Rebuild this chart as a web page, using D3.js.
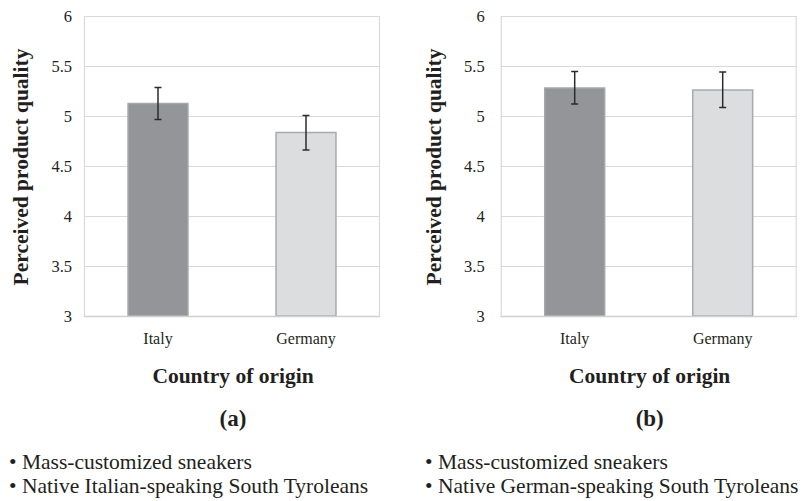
<!DOCTYPE html>
<html>
<head>
<meta charset="utf-8">
<script src="https://cdn.jsdelivr.net/npm/d3@7"></script>
<style>
  html, body { margin: 0; padding: 0; background: #fff; }
  svg { display: block; }
  text { font-family: "Liberation Serif", "Times New Roman", serif; fill: #231f20; }
</style>
</head>
<body>
<svg id="chart" width="811" height="501"></svg>
<script>
// ---- data ----
const categories = ["Italy", "Germany"];
const meansA = [5.125, 4.835];
const errLowA = [4.965, 4.66];
const errHighA = [5.285, 5.005];
const meansB = [5.28, 5.26];
const errLowB = [5.12, 5.085];
const errHighB = [5.445, 5.44];
const yTicks = [3, 3.5, 4, 4.5, 5, 5.5, 6];
const yTickLabels = ["3", "3.5", "4", "4.5", "5", "5.5", "6"];
const yTitle = "Perceived product quality";
const xTitle = "Country of origin";
const panelLabels = ["(a)", "(b)"];
const bulletsA = ["Mass-customized sneakers", "Native Italian-speaking South Tyroleans"];
const bulletsB = ["Mass-customized sneakers", "Native German-speaking South Tyroleans"];
const barColors = ["#939598", "#dcdddf"];
const barStrokes = ["#a7a8aa", "#a9aaac"];

const svg = d3.select("#chart");

const panels = [
  { x0: 84, x1: 380, means: meansA, lo: errLowA, hi: errHighA, label: panelLabels[0],
    bullets: bulletsA, tickGap: 12, titleX: 28, bulletX: 9 },
  { x0: 500.7, x1: 796.7, means: meansB, lo: errLowB, hi: errHighB, label: panelLabels[1],
    bullets: bulletsB, tickGap: 16, titleX: 441, bulletX: 425 }
];

const y = d3.scaleLinear().domain([3, 6]).range([316, 16]);

panels.forEach(p => {
  const g = svg.append("g");
  const x = d3.scaleBand().domain(categories).range([p.x0, p.x1]).paddingInner(0.595).paddingOuter(0.2975);
  const cx = (p.x0 + p.x1) / 2;

  // gridlines
  g.append("g").selectAll("line").data(yTicks).join("line")
    .attr("x1", p.x0).attr("x2", p.x1)
    .attr("y1", d => Math.round(y(d)) + 0.5).attr("y2", d => Math.round(y(d)) + 0.5)
    .attr("stroke", "#d9d9d9").attr("stroke-width", 1.2);

  // frame sides
  g.append("line").attr("x1", p.x0 + 0.5).attr("x2", p.x0 + 0.5).attr("y1", y(6)).attr("y2", y(3))
    .attr("stroke", "#d9d9d9").attr("stroke-width", 1.2);
  g.append("line").attr("x1", p.x1 - 0.5).attr("x2", p.x1 - 0.5).attr("y1", y(6)).attr("y2", y(3))
    .attr("stroke", "#d9d9d9").attr("stroke-width", 1.2);

  // bars
  g.append("g").selectAll("rect").data(categories).join("rect")
    .attr("x", d => x(d)).attr("width", x.bandwidth())
    .attr("y", (d, i) => y(p.means[i])).attr("height", (d, i) => y(3) - y(p.means[i]))
    .attr("fill", (d, i) => barColors[i])
    .attr("stroke", (d, i) => barStrokes[i]).attr("stroke-width", 1.5);

  // bottom axis line
  g.append("line").attr("x1", p.x0).attr("x2", p.x1).attr("y1", 316.5).attr("y2", 316.5)
    .attr("stroke", "#d0d0d0").attr("stroke-width", 1.5);

  // error bars
  const eb = g.append("g").attr("stroke", "#2b2b2b").attr("stroke-width", 1.5);
  categories.forEach((c, i) => {
    const mx = x(c) + x.bandwidth() / 2;
    eb.append("line").attr("x1", mx).attr("x2", mx).attr("y1", y(p.hi[i])).attr("y2", y(p.lo[i]));
    eb.append("line").attr("x1", mx - 3.5).attr("x2", mx + 3.5).attr("y1", y(p.hi[i])).attr("y2", y(p.hi[i]));
    eb.append("line").attr("x1", mx - 3.5).attr("x2", mx + 3.5).attr("y1", y(p.lo[i])).attr("y2", y(p.lo[i]));
  });

  // y tick labels
  g.append("g").selectAll("text").data(yTicks).join("text")
    .attr("x", p.x0 - p.tickGap).attr("y", d => y(d))
    .attr("dy", "0.35em").attr("text-anchor", "end")
    .style("font-size", "16.5px")
    .text((d, i) => yTickLabels[i]);

  // x tick labels
  g.append("g").selectAll("text").data(categories).join("text")
    .attr("x", d => x(d) + x.bandwidth() / 2).attr("y", 344)
    .attr("text-anchor", "middle").style("font-size", "16px")
    .text(d => d);

  // y title
  g.append("text")
    .attr("transform", `translate(${p.titleX},${(y(6) + y(3)) / 2 + 1}) rotate(-90)`)
    .attr("text-anchor", "middle").style("font-size", "21.5px").style("font-weight", "bold")
    .text(yTitle);

  // x title
  g.append("text").attr("x", cx + 1).attr("y", 383)
    .attr("text-anchor", "middle").style("font-size", "21.5px").style("font-weight", "bold")
    .text(xTitle);

  // panel label
  g.append("text").attr("x", cx + 1).attr("y", 426)
    .attr("text-anchor", "middle").style("font-size", "23px").style("font-weight", "bold")
    .text(p.label);

  // bullets
  g.append("g").selectAll("text").data(p.bullets).join("text")
    .attr("x", p.bulletX).attr("y", (d, i) => 468.5 + i * 24.5)
    .style("font-size", "21.5px")
    .text(d => "\u2022 " + d);
});
</script>
</body>
</html>
